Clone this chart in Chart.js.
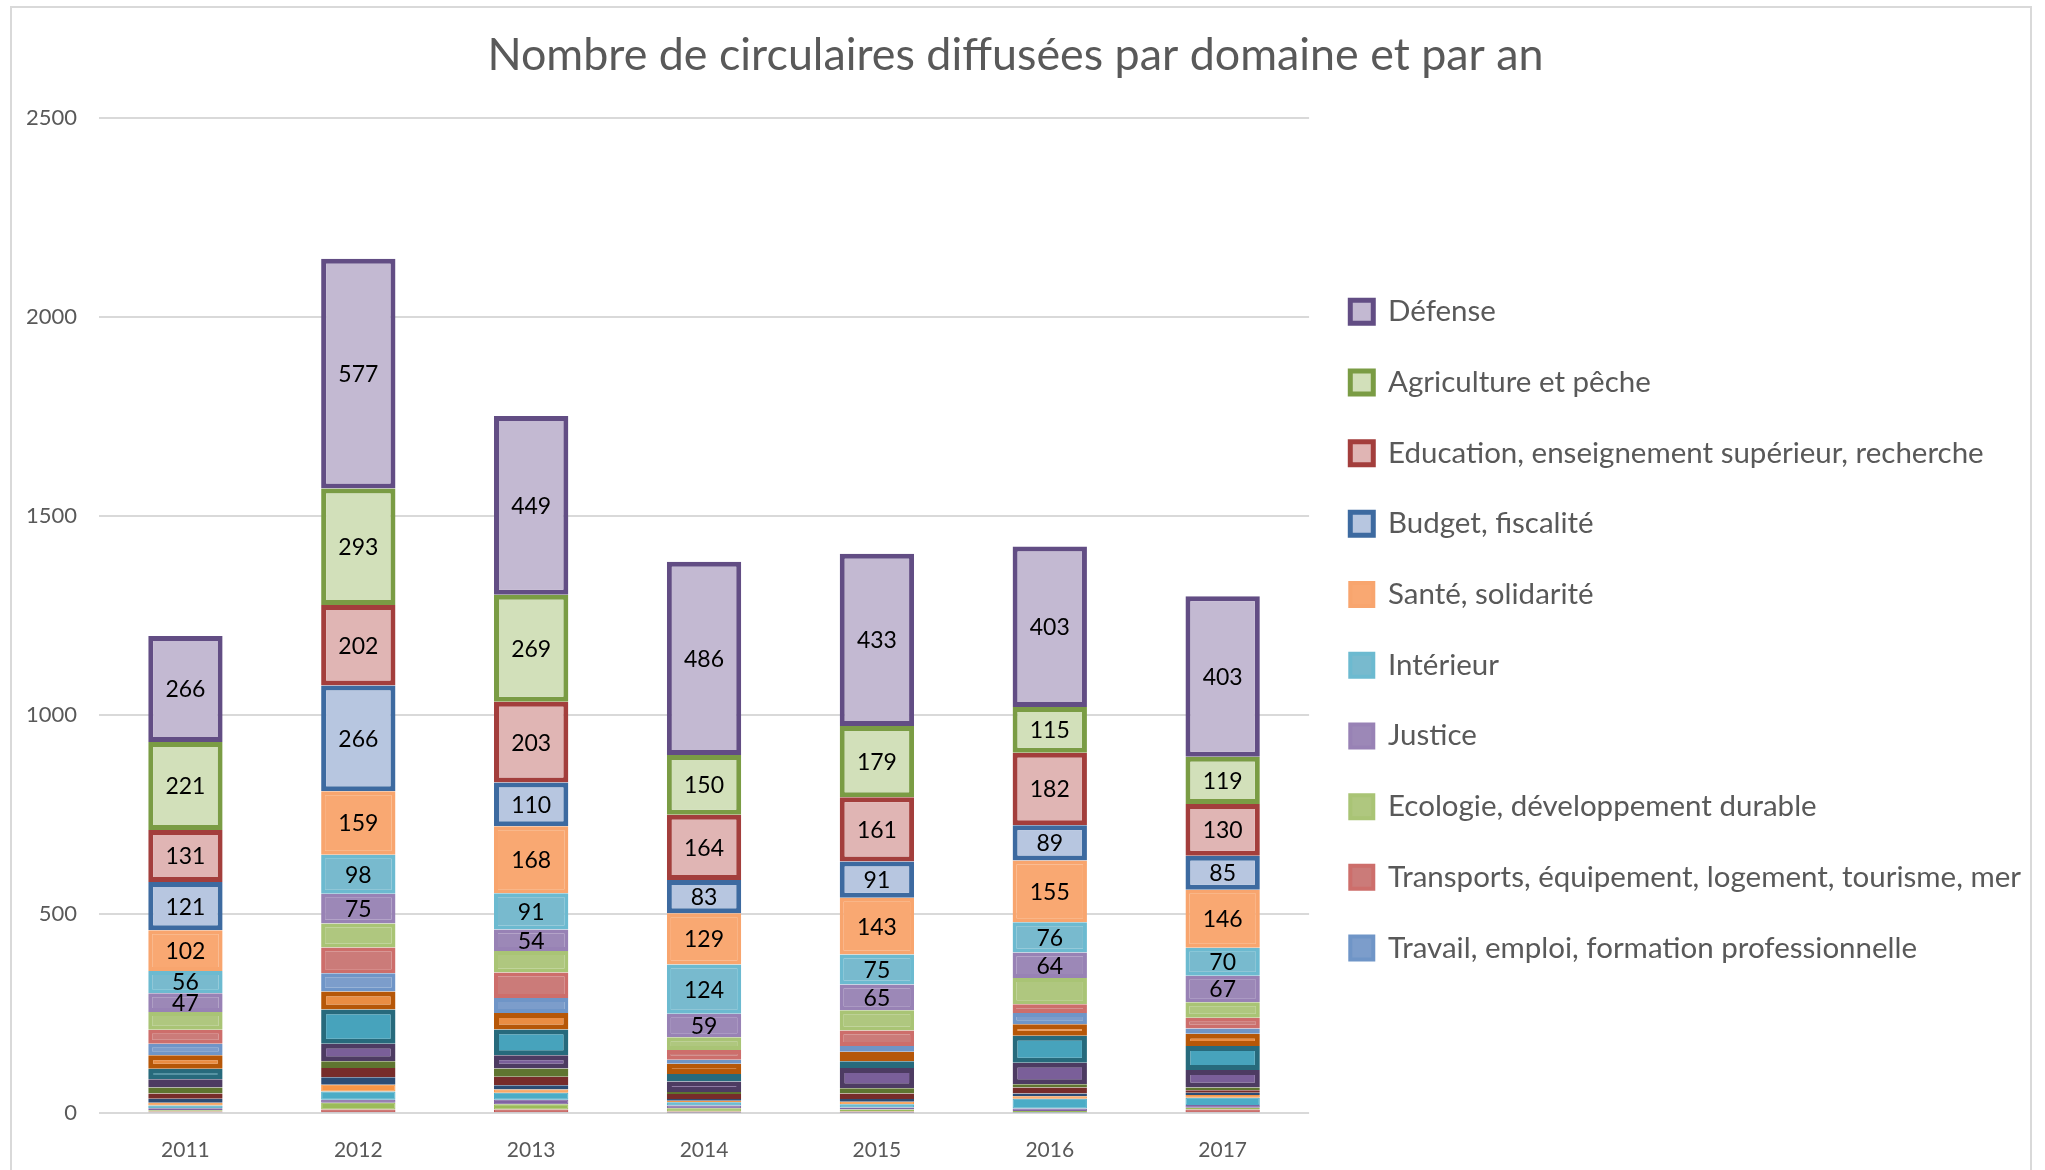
<!DOCTYPE html>
<html lang="fr">
<head>
<meta charset="UTF-8">
<title>Nombre de circulaires diffusées par domaine et par an</title>
<script src="https://cdn.jsdelivr.net/npm/chart.js"></script>
<style>
  html, body { margin: 0; padding: 0; background: #fff; overflow: hidden; }
  #wrap { position: relative; width: 2045px; height: 1170px; }
</style>
</head>
<body>
<div id="wrap"><canvas id="circChart"></canvas></div>
<script>
// years on the x axis
const years = ['2011', '2012', '2013', '2014', '2015', '2016', '2017'];
const yTicks = [0, 500, 1000, 1500, 2000, 2500];

// small domains at the bottom of each stack (not in the legend)
const autre01 = [2, 2, 2, 1, 1, 1, 2];
const autre02 = [2, 7, 7, 3, 3, 1, 7];
const autre03 = [3, 17, 13, 8, 5, 3, 4];
const autre04 = [5, 7, 11, 7, 5, 6, 7];
const autre05 = [7, 21, 18, 8, 8, 25, 18];
const autre06 = [7, 17, 8, 4, 6, 6, 7];
const autre07 = [10, 19, 11, 4, 7, 7, 6];
const autre08 = [13, 23, 21, 13, 14, 15, 6];
const autre09 = [15, 17, 21, 5, 13, 8, 7];
const autre10 = [21, 44, 33, 26, 51, 54, 44];
const autre11 = [26, 86, 65, 19, 17, 68, 60];
const autre12 = [34, 45, 41, 26, 24, 29, 31];

// domains shown in the legend (bottom to top)
const travail = [29, 46, 38, 10, 14, 28, 13];
const transports = [35, 65, 64, 24, 39, 22, 27];
const ecologie = [45, 60, 54, 32, 51, 66, 39];
const justice = [47, 75, 54, 59, 65, 64, 67];
const interieur = [56, 98, 91, 124, 75, 76, 70];
const sante = [102, 159, 168, 129, 143, 155, 146];
const budget = [121, 266, 110, 83, 91, 89, 85];
const education = [131, 202, 203, 164, 161, 182, 130];
const agriculture = [221, 293, 269, 150, 179, 115, 119];
const defense = [266, 577, 449, 486, 433, 403, 403];

const FONT = 'Lato';

function serie(label, data, bg, border, width, showValue) {
    return {
        label: label,
        data: data,
        backgroundColor: bg,
        borderColor: border,
        borderWidth: width,
        borderSkipped: false,
        showValue: showValue
    };
}

const datasets = [
    serie('Autres domaines (1)', autre01, '#4F81BD', '#4F81BD', 1, false),
    serie('Autres domaines (2)', autre02, '#C0504D', '#C0504D', 1, false),
    serie('Autres domaines (3)', autre03, '#9BBB59', '#9BBB59', 1, false),
    serie('Autres domaines (4)', autre04, '#8064A2', '#8064A2', 1, false),
    serie('Autres domaines (5)', autre05, '#4BACC6', '#4BACC6', 1, false),
    serie('Autres domaines (6)', autre06, '#F79646', '#F79646', 1, false),
    serie('Autres domaines (7)', autre07, '#4A7AB3', '#2C4D75', 5, false),
    serie('Autres domaines (8)', autre08, '#B64C49', '#772C2A', 5, false),
    serie('Autres domaines (9)', autre09, '#93B155', '#5F7530', 5, false),
    serie('Autres domaines (10)', autre10, '#7A5F99', '#4D3B62', 5, false),
    serie('Autres domaines (11)', autre11, '#47A3BC', '#276A7C', 5, false),
    serie('Autres domaines (12)', autre12, '#EA8D43', '#B65708', 5, false),
    serie('Travail, emploi, formation professionnelle', travail, '#7C9DCB', '#6F95C7', 4, false),
    serie('Transports, équipement, logement, tourisme, mer', transports, '#CB7B79', '#CD6E6B', 4, false),
    serie('Ecologie, développement durable', ecologie, '#AFC77F', '#A9C475', 4, false),
    serie('Justice', justice, '#9C88B7', '#9882B5', 4, true),
    serie('Intérieur', interieur, '#78BACE', '#6CBAD0', 4, true),
    serie('Santé, solidarité', sante, '#F9A872', '#F8A56E', 4, true),
    serie('Budget, fiscalité', budget, '#B7C6E0', '#3D6AA0', 5, true),
    serie('Education, enseignement supérieur, recherche', education, '#E0B5B4', '#A33E3C', 5, true),
    serie('Agriculture et pêche', agriculture, '#D2E0BA', '#7A9C44', 5, true),
    serie('Défense', defense, '#C3B9D2', '#624D84', 5, true)
];

// value labels in the middle of the segments
const valueLabels = {
    id: 'valueLabels',
    afterDatasetsDraw(chart) {
        const ctx = chart.ctx;
        ctx.save();
        ctx.font = '23px ' + FONT;
        ctx.fillStyle = '#000000';
        ctx.textAlign = 'center';
        ctx.textBaseline = 'middle';
        chart.data.datasets.forEach((ds, i) => {
            if (!ds.showValue) return;
            chart.getDatasetMeta(i).data.forEach((bar, j) => {
                const p = bar.getCenterPoint();
                ctx.fillText(ds.data[j], p.x, p.y + 1);
            });
        });
        ctx.restore();
    }
};

// light grey frame around the chart
const frame = {
    id: 'frame',
    beforeDraw(chart) {
        const ctx = chart.ctx;
        ctx.save();
        ctx.strokeStyle = '#d9d9d9';
        ctx.lineWidth = 2;
        ctx.strokeRect(11, 7, 2020, 1200);
        ctx.restore();
    }
};

// the layout caps side boxes at a quarter of the width: let the legend take what it needs
const wideLegend = {
    id: 'wideLegend',
    beforeLayout(chart) {
        const lg = chart.legend;
        if (lg && !lg._wide) {
            const update = lg.update.bind(lg);
            lg.update = (maxWidth, maxHeight, margins) => update(Math.max(maxWidth, 800), maxHeight, margins);
            lg._wide = true;
        }
    }
};

const ctx = document.getElementById('circChart').getContext('2d');
new Chart(ctx, {
    type: 'bar',
    data: { labels: years, datasets: datasets },
    plugins: [frame, valueLabels, wideLegend],
    options: {
        responsive: true,
        maintainAspectRatio: false,
        animation: false,
        layout: { padding: { left: 0, right: 14, top: 0, bottom: 0 } },
        datasets: { bar: { categoryPercentage: 1, barPercentage: 0.43 } },
        scales: {
            x: {
                stacked: true,
                grid: { display: false },
                border: { display: false },
                ticks: { color: '#595959', font: { family: FONT, size: 21 }, padding: 17 },
                afterFit(scale) { scale.height = 57; }
            },
            y: {
                stacked: true,
                min: yTicks[0],
                max: yTicks[yTicks.length - 1],
                afterBuildTicks(scale) { scale.ticks = yTicks.map(v => ({ value: v })); },
                grid: { color: '#d9d9d9', lineWidth: 2, drawTicks: false },
                border: { display: false },
                ticks: {
                    color: '#595959',
                    font: { family: FONT, size: 22 },
                    padding: 22,
                    callback: v => String(v)
                },
                afterFit(scale) { scale.width = 99; }
            }
        },
        plugins: {
            title: {
                display: true,
                text: 'Nombre de circulaires diffusées par domaine et par an',
                color: '#595959',
                font: { family: FONT, size: 44.8, weight: 'normal' },
                padding: { top: 29, bottom: 35 }
            },
            legend: {
                position: 'right',
                fullSize: false,
                reverse: true,
                title: { display: true, text: ' ', font: { size: 10 }, padding: { top: 9, bottom: 8 } },
                labels: {
                    filter: item => item.datasetIndex >= 12,
                    boxWidth: 23,
                    boxHeight: 23,
                    padding: 41.2,
                    color: '#595959',
                    font: { family: FONT, size: 29.5 }
                }
            },
            tooltip: { enabled: false }
        }
    }
});
</script>
</body>
</html>
